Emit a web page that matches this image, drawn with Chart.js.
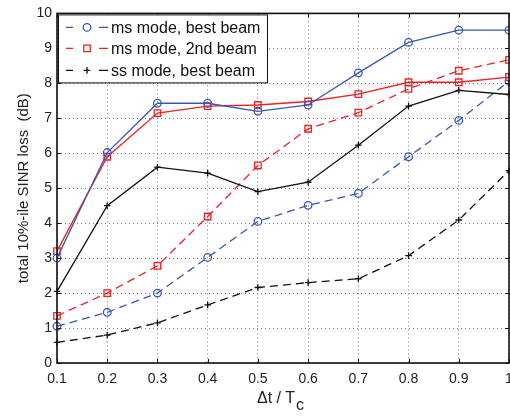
<!DOCTYPE html>
<html>
<head>
<meta charset="utf-8">
<script src="https://cdn.jsdelivr.net/npm/chart.js@4"></script>
<style>
  body { margin: 0; background: #fff; overflow: hidden; }
  #wrap { position: relative; width: 510px; height: 417px; overflow: hidden; }
  #xtitle { position: absolute; left: 257px; top: 389px; font: 16px "Liberation Sans", Arial, sans-serif; color: #222; white-space: nowrap; }
  #xtitle sub { font-size: 16px; vertical-align: -7px; margin-left: 1px; }
</style>
</head>
<body>
<div id="wrap">
  <canvas id="sinrChart" width="530" height="417"></canvas>
  <div id="xtitle">Δt / T<sub>c</sub></div>
</div>
<script>

// x axis categories (Δt / Tc)
const dtLabels = ['0.1','0.2','0.3','0.4','0.5','0.6','0.7','0.8','0.9','1']

// solid curves
const msBestSolid = [3.0, 6.02, 7.43, 7.43, 7.2, 7.38, 8.3, 9.17, 9.52, 9.52]
const ms2ndSolid  = [3.2, 5.9, 7.15, 7.35, 7.38, 7.48, 7.69, 8.03, 8.03, 8.18]
const ssBestSolid = [2.05, 4.5, 5.6, 5.43, 4.9, 5.17, 6.23, 7.35, 7.8, 7.68]

// dashed curves (legend entries)
const msBestDash = [1.05, 1.45, 2.0, 3.02, 4.05, 4.51, 4.85, 5.9, 6.94, 8.06]
const ms2ndDash  = [1.35, 2.0, 2.78, 4.19, 5.65, 6.7, 7.16, 7.84, 8.36, 8.67]
const ssBestDash = [0.59, 0.8, 1.15, 1.66, 2.16, 2.3, 2.41, 3.07, 4.09, 5.5]

const legendNames = ['ms mode, best beam', 'ms mode, 2nd beam', 'ss mode, best beam']

const BLUE = '#3a58b0'
const RED = '#ee2222'
const BLACK = '#111111'
const FONT = '"Liberation Sans", Arial, sans-serif'

function series(data, color, style, radius, dashed){
  return {
    data: data,
    borderColor: color,
    backgroundColor: 'transparent',
    borderWidth: 1.3,
    borderDash: dashed ? [8,5] : [],
    tension: 0,
    fill: false,
    pointStyle: style,
    pointRadius: radius,
    pointBorderColor: color,
    pointBackgroundColor: 'transparent',
    pointBorderWidth: 1.3,
    pointHoverRadius: radius
  }
}

// box, inner tick marks and the legend
const matlabAxes = {
  id: 'matlabAxes',
  afterDraw(chart){
    const ctx = chart.ctx
    const a = chart.chartArea
    const xs = chart.scales.x, ys = chart.scales.y
    ctx.save()
    ctx.strokeStyle = '#111'
    ctx.lineWidth = 1
    ctx.setLineDash([])
    ctx.beginPath()
    for(let i = 0; i < dtLabels.length; i++){
      const px = Math.round(xs.getPixelForValue(i)) + 0.5
      ctx.moveTo(px, a.bottom); ctx.lineTo(px, a.bottom - 4)
      ctx.moveTo(px, a.top); ctx.lineTo(px, a.top + 4)
    }
    for(let v = 0; v <= 10; v++){
      const py = Math.round(ys.getPixelForValue(v)) + 0.5
      ctx.moveTo(a.left, py); ctx.lineTo(a.left + 4, py)
      ctx.moveTo(a.right, py); ctx.lineTo(a.right - 4, py)
    }
    ctx.stroke()
    ctx.lineWidth = 1.6
    ctx.strokeRect(a.left, a.top, a.right - a.left, a.bottom - a.top)

    // legend
    const lx = a.left + 1, ly = a.top + 1, lw = 209, lh = 68
    ctx.fillStyle = '#fff'
    ctx.fillRect(lx, ly, lw, lh)
    ctx.lineWidth = 1
    ctx.strokeStyle = '#111'
    ctx.strokeRect(lx + 0.5, ly + 0.5, lw, lh)
    const rows = [a.top + 14, a.top + 35, a.top + 57]
    const sets = [chart.data.datasets[3], chart.data.datasets[4], chart.data.datasets[5]]
    ctx.font = '16px ' + FONT
    ctx.textBaseline = 'middle'
    sets.forEach((ds, i) => {
      const y = rows[i]
      ctx.strokeStyle = ds.borderColor
      ctx.lineWidth = 1.3
      ctx.setLineDash([])
      ctx.beginPath()
      ctx.moveTo(66, y); ctx.lineTo(73, y)
      ctx.moveTo(99, y); ctx.lineTo(108, y)
      ctx.stroke()
      const mx = 87, r = ds.pointRadius
      ctx.beginPath()
      if(ds.pointStyle === 'circle'){
        ctx.arc(mx, y, r, 0, Math.PI*2)
      } else if(ds.pointStyle === 'rect'){
        const s = r * Math.SQRT1_2
        ctx.rect(mx - s, y - s, 2*s, 2*s)
      } else {
        ctx.moveTo(mx - r, y); ctx.lineTo(mx + r, y)
        ctx.moveTo(mx, y - r); ctx.lineTo(mx, y + r)
      }
      ctx.stroke()
      ctx.fillStyle = '#111'
      ctx.fillText(legendNames[i], 111, y + 1)
    })
    ctx.restore()
  }
}

new Chart(document.getElementById('sinrChart'), {
  type: 'line',
  data: {
    labels: dtLabels,
    datasets: [
      series(msBestSolid, BLUE, 'circle', 3.8, false),
      series(ms2ndSolid, RED, 'rect', 4.6, false),
      series(ssBestSolid, BLACK, 'cross', 3.3, false),
      series(msBestDash, BLUE, 'circle', 3.8, true),
      series(ms2ndDash, RED, 'rect', 4.6, true),
      series(ssBestDash, BLACK, 'cross', 3.3, true)
    ]
  },
  options: {
    responsive: false,
    animation: false,
    layout: { padding: { top: 11, right: 21, left: 0, bottom: 0 } },
    plugins: {
      legend: { display: false },
      tooltip: { enabled: false }
    },
    scales: {
      x: {
        type: 'category',
        offset: false,
        afterFit: s => { s.height = 54 },
        grid: { color: '#777', drawTicks: false, lineWidth: 1 },
        border: { display: false, dash: [1,3] },
        ticks: { color: '#222', font: { family: FONT, size: 14 }, padding: 8, maxRotation: 0, autoSkip: false }
      },
      y: {
        min: 0,
        max: 10,
        afterFit: s => { s.width = 57 },
        grid: { color: '#777', drawTicks: false, lineWidth: 1 },
        border: { display: false, dash: [1,3] },
        ticks: { stepSize: 1, color: '#222', font: { family: FONT, size: 14 }, padding: 5 },
        title: {
          display: true,
          text: 'total 10%-ile SINR loss  (dB)',
          color: '#222',
          font: { family: FONT, size: 15 },
          padding: { top: 15, bottom: 0 }
        }
      }
    }
  },
  plugins: [matlabAxes]
})

</script>
</body>
</html>
